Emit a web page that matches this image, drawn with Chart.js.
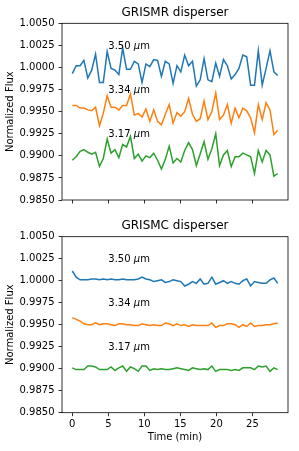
<!DOCTYPE html>
<html>
<head>
<meta charset="utf-8">
<script src="https://cdn.jsdelivr.net/npm/chart.js@4.4.0/dist/chart.umd.min.js"></script>
<style>
  html, body { margin: 0; padding: 0; background: #fff; }
  #wrap { position: relative; width: 299px; height: 451px; }
  .box { position: absolute; left: 0; width: 299px; }
  #top { top: 0; height: 215px; }
  #bottom { top: 215px; height: 236px; }
</style>
</head>
<body>
<div id="wrap">
  <div class="box" id="top"><canvas id="grismR"></canvas></div>
  <div class="box" id="bottom"><canvas id="grismC"></canvas></div>
</div>
<script>
// time stamps (min)
const times = [0, 0.54, 1.08, 1.61, 2.15, 2.69, 3.23, 3.77, 4.30, 4.84,
  5.38, 5.92, 6.46, 6.99, 7.53, 8.07, 8.61, 9.15, 9.68, 10.22,
  10.76, 11.30, 11.84, 12.37, 12.91, 13.45, 13.99, 14.53, 15.06, 15.60,
  16.14, 16.68, 17.22, 17.75, 18.29, 18.83, 19.37, 19.91, 20.44, 20.98,
  21.52, 22.06, 22.60, 23.13, 23.67, 24.21, 24.75, 25.29, 25.82, 26.36,
  26.90, 27.44, 27.98, 28.51];

// GRISMR
const grismR350 = [0.9993, 1.0002, 1.0002, 1.0008, 0.9988, 0.9997, 1.0015, 0.9983, 0.9983, 1.0018,
  0.9999, 0.9997, 0.9992, 1.0022, 0.9998, 0.9998, 1.0007, 1.0004, 0.9983, 1.0004,
  1.0001, 1.0009, 1.0008, 0.9990, 1.0007, 1.0004, 0.9982, 1.0002, 0.9995, 1.0014,
  1.0002, 1.0007, 0.9979, 0.9986, 1.0010, 0.9986, 0.9984, 1.0005, 0.9990, 1.0009,
  1.0002, 0.9987, 0.9992, 0.9999, 1.0014, 1.0012, 0.9980, 0.9980, 1.0019, 0.9980,
  0.9999, 1.0019, 0.9995, 0.9991];
const grismR334 = [0.9957, 0.9957, 0.9954, 0.9954, 0.9952, 0.9951, 0.9955, 0.9934, 0.9948, 0.9968,
  0.9955, 0.9955, 0.9952, 0.9957, 0.9957, 0.9970, 0.9946, 0.9948, 0.9944, 0.9953,
  0.9939, 0.9952, 0.9939, 0.9935, 0.9947, 0.9958, 0.9937, 0.9949, 0.9945, 0.9950,
  0.9965, 0.9947, 0.9939, 0.9942, 0.9962, 0.9941, 0.9950, 0.9971, 0.9941, 0.9946,
  0.9958, 0.9937, 0.9954, 0.9943, 0.9954, 0.9951, 0.9943, 0.9926, 0.9958, 0.9941,
  0.9960, 0.9952, 0.9924, 0.9929];
const grismR317 = [0.9895, 0.9899, 0.9905, 0.9907, 0.9904, 0.9902, 0.9904, 0.9888, 0.9897, 0.9919,
  0.9903, 0.9907, 0.9898, 0.9913, 0.9910, 0.9922, 0.9897, 0.9902, 0.9894, 0.9900,
  0.9898, 0.9903, 0.9895, 0.9885, 0.9896, 0.9911, 0.9892, 0.9897, 0.9893, 0.9906,
  0.9915, 0.9907, 0.9889, 0.9902, 0.9916, 0.9896, 0.9908, 0.9925, 0.9889, 0.9901,
  0.9906, 0.9888, 0.9899, 0.9899, 0.9903, 0.9901, 0.9899, 0.9880, 0.9906, 0.9893,
  0.9906, 0.9901, 0.9877, 0.9880];

// GRISMC
const grismC350 = [1.0011, 1.0004, 1.0001, 1.0001, 1.0001, 1.0002, 1.0002, 1.0001, 1.0002, 1.0001,
  1.0002, 1.0001, 1.0001, 1.0002, 1.0001, 1.0001, 1.0001, 1.0002, 1.0004, 1.0002,
  1.0001, 0.9999, 1.0000, 1.0001, 0.9998, 0.9999, 1.0001, 1.0000, 0.9999, 0.9994,
  0.9996, 0.9999, 0.9997, 1.0002, 0.9996, 0.9997, 1.0004, 0.9996, 0.9998, 1.0000,
  0.9997, 0.9999, 0.9997, 0.9996, 1.0000, 1.0002, 0.9994, 0.9999, 0.9998, 0.9997,
  0.9997, 1.0001, 1.0003, 0.9997];
const grismC334 = [0.9958, 0.9956, 0.9954, 0.9951, 0.9950, 0.9950, 0.9952, 0.9950, 0.9951, 0.9951,
  0.9950, 0.9949, 0.9951, 0.9951, 0.9950, 0.9950, 0.9949, 0.9949, 0.9951, 0.9950,
  0.9949, 0.9950, 0.9949, 0.9949, 0.9952, 0.9951, 0.9949, 0.9951, 0.9949, 0.9950,
  0.9948, 0.9950, 0.9949, 0.9949, 0.9949, 0.9949, 0.9952, 0.9947, 0.9949, 0.9949,
  0.9951, 0.9951, 0.9950, 0.9947, 0.9950, 0.9948, 0.9952, 0.9948, 0.9949, 0.9949,
  0.9950, 0.9950, 0.9951, 0.9952];
const grismC317 = [0.9901, 0.9899, 0.9899, 0.9899, 0.9903, 0.9903, 0.9902, 0.9899, 0.9899, 0.9899,
  0.9902, 0.9898, 0.9901, 0.9903, 0.9897, 0.9902, 0.9900, 0.9897, 0.9903, 0.9903,
  0.9898, 0.9900, 0.9899, 0.9900, 0.9899, 0.9899, 0.9900, 0.9901, 0.9900, 0.9899,
  0.9898, 0.9901, 0.9900, 0.9899, 0.9900, 0.9899, 0.9903, 0.9897, 0.9899, 0.9899,
  0.9899, 0.9898, 0.9899, 0.9898, 0.9901, 0.9901, 0.9901, 0.9899, 0.9903, 0.9902,
  0.9903, 0.9897, 0.9901, 0.9899];

const wavelengths = ['3.50', '3.34', '3.17'];
const labelTime = 5;
const labelFlux = [1.0021, 0.9971, 0.9921];

const yTicks = [0.985, 0.9875, 0.99, 0.9925, 0.995, 0.9975, 1.0, 1.0025, 1.005];
const xTicks = [0, 5, 10, 15, 20, 25];

const colors = ['#1f77b4', '#ff7f0e', '#2ca02c'];
const FONT = '"DejaVu Sans", sans-serif';

// box around the axes, like matplotlib spines
const frame = {
  id: 'frame',
  afterDatasetsDraw(chart) {
    const { ctx, chartArea: a } = chart;
    ctx.save();
    ctx.strokeStyle = '#000';
    ctx.lineWidth = 0.8;
    ctx.strokeRect(a.left, a.top, a.right - a.left, a.bottom - a.top);
    ctx.restore();
  }
};

// "3.50 μm" etc
const waveLabels = {
  id: 'waveLabels',
  afterDraw(chart) {
    const { ctx, scales: { x, y } } = chart;
    ctx.save();
    ctx.fillStyle = '#000';
    ctx.textBaseline = 'alphabetic';
    ctx.textAlign = 'left';
    wavelengths.forEach((w, i) => {
      let px = x.getPixelForValue(labelTime);
      const py = y.getPixelForValue(labelFlux[i]);
      ctx.font = '10px ' + FONT;
      ctx.fillText(w + ' ', px, py);
      px += ctx.measureText(w + ' ').width;
      ctx.font = 'italic 10px ' + FONT;
      ctx.fillText('μ', px, py);
      px += ctx.measureText('μ').width;
      ctx.font = '10px ' + FONT;
      ctx.fillText('m', px, py);
    });
    ctx.restore();
  }
};

function makeChart(id, title, series, bottomAxis, titlePad) {
  const ctx = document.getElementById(id).getContext('2d');
  return new Chart(ctx, {
    type: 'line',
    data: {
      datasets: series.map((s, i) => ({
        data: times.map((t, j) => ({ x: t, y: s[j] })),
        borderColor: colors[i],
        borderWidth: 1.5,
        pointRadius: 0,
        tension: 0,
        fill: false
      }))
    },
    options: {
      responsive: true,
      maintainAspectRatio: false,
      animation: false,
      layout: { padding: { left: 0, right: 11, top: 0, bottom: 0 } },
      plugins: {
        legend: { display: false },
        tooltip: { enabled: false },
        title: {
          display: true,
          fullSize: false,
          text: title,
          color: '#000',
          font: { family: FONT, size: 12, weight: 'normal' },
          padding: titlePad
        }
      },
      scales: {
        x: {
          type: 'linear',
          min: -1.43,
          max: 29.94,
          afterBuildTicks: s => { s.ticks = xTicks.map(v => ({ value: v })); },
          afterFit: s => { s.height = bottomAxis ? 38.3 : 15; },
          border: { display: false },
          grid: { drawOnChartArea: false, drawTicks: true, tickLength: 3.5, color: '#000', lineWidth: 0.8 },
          ticks: {
            display: bottomAxis,
            autoSkip: false,
            maxRotation: 0,
            padding: 2,
            color: '#000',
            font: { family: FONT, size: 10 },
            callback: v => String(v)
          },
          title: {
            display: bottomAxis,
            text: 'Time (min)',
            color: '#000',
            font: { family: FONT, size: 10 },
            padding: { top: 0, bottom: 7.5 }
          }
        },
        y: {
          min: 0.985,
          max: 1.005,
          afterBuildTicks: s => { s.ticks = yTicks.map(v => ({ value: v })); },
          afterFit: s => { s.width = 62; },
          border: { display: false },
          grid: { drawOnChartArea: false, drawTicks: true, tickLength: 3.5, color: '#000', lineWidth: 0.8 },
          ticks: {
            autoSkip: false,
            padding: 4,
            color: '#000',
            font: { family: FONT, size: 10 },
            callback: v => v.toFixed(4)
          },
          title: {
            display: true,
            text: 'Normalized Flux',
            color: '#000',
            font: { family: FONT, size: 10 },
            padding: { top: 4.5, bottom: 0 }
          }
        }
      }
    },
    plugins: [frame, waveLabels]
  });
}

makeChart('grismR', 'GRISMR disperser', [grismR350, grismR334, grismR317], false, { top: 5.5, bottom: 3.4 });
makeChart('grismC', 'GRISMC disperser', [grismC350, grismC334, grismC317], true, { top: 3.8, bottom: 3.5 });
</script>
</body>
</html>
